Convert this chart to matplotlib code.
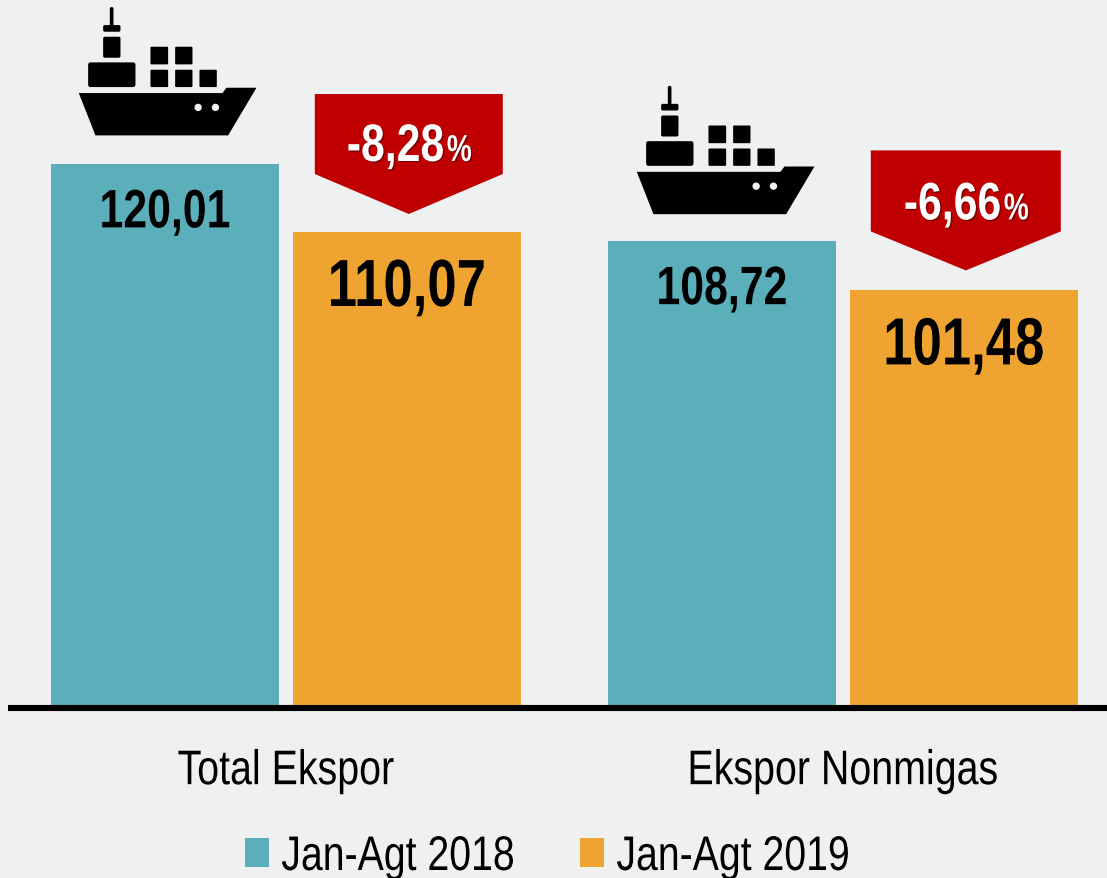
import types
import matplotlib
matplotlib.use("Agg")
import matplotlib.pyplot as plt
from matplotlib.patches import Polygon, FancyBboxPatch, Circle
from matplotlib.textpath import TextPath
from matplotlib.transforms import Affine2D, Bbox
from matplotlib.colors import to_rgba

FONT = "Liberation Sans"

categories = ["Total Ekspor", "Ekspor Nonmigas"]
series_names = ["Jan-Agt 2018", "Jan-Agt 2019"]
values_2018 = [120.01, 108.72]
values_2019 = [110.07, 101.48]
changes = ["-8,28", "-6,66"]

BG, TEAL, ORANGE, RED = "#EFF1F0", "#5BAFBB", "#EFA330", "#C00000"
W, H = 1107, 879
PX_PER_UNIT = 6.8
PX_PER_CAT = 557
BASE_PX = 708.5
OFFSET = 121 / PX_PER_CAT
BAR_W = 228 / PX_PER_CAT
ALIGN = {"left": 0.0, "center": 0.5, "right": 1.0}


class CondensedRenderer:
    """Draws the text of a Text artist narrowed horizontally (no condensed font is installed)."""
    def __init__(self, renderer, artist, fx, shadow):
        self._r, self._artist, self._fx, self._shadow = renderer, artist, fx, shadow

    def __getattr__(self, name):
        return getattr(self._r, name)

    def draw_text(self, gc, x, y, s, prop, angle, ismath=False, mtext=None):
        r = self._r
        w = r.get_text_width_height_descent(s, prop, False)[0]
        k = r.dpi / 72
        x_new = x + w * ALIGN[self._artist.get_ha()] * (1 - self._fx)
        y_up = r.height - y
        path = TextPath((0, 0), s, prop=prop)
        gc.set_linewidth(0)
        if self._shadow:
            tr = Affine2D().scale(k * self._fx, k).translate(x_new + 1.3, y_up - 1.3)
            r.draw_path(gc, path, tr, to_rgba(self._shadow))
        tr = Affine2D().scale(k * self._fx, k).translate(x_new, y_up)
        r.draw_path(gc, path, tr, gc.get_rgb())


def condense(text, fx, shadow=None):
    base_draw = type(text).draw
    base_extent = type(text).get_window_extent

    def draw(self, renderer):
        base_draw(self, CondensedRenderer(renderer, self, fx, shadow))

    def get_window_extent(self, renderer=None, dpi=None):
        bb = base_extent(self, renderer, dpi)
        x0 = bb.x0 + bb.width * ALIGN[self.get_ha()] * (1 - fx)
        return Bbox.from_extents(x0, bb.y0, x0 + bb.width * fx, bb.y1)

    text.draw = types.MethodType(draw, text)
    text.get_window_extent = types.MethodType(get_window_extent, text)
    return text


fig = plt.figure(figsize=(W / 100, H / 100), dpi=100, facecolor=BG)
ax = fig.add_axes([8 / W, (H - BASE_PX) / H, (W - 8) / W, BASE_PX / H], facecolor=BG)
ax.set_xlim((8 - 285.8) / PX_PER_CAT, (W - 285.8) / PX_PER_CAT)
y0 = 120.01 - (BASE_PX - 165.4) / PX_PER_UNIT
ax.set_ylim(y0, y0 + BASE_PX / PX_PER_UNIT)

b1 = ax.bar([i - OFFSET for i in range(2)], values_2018, BAR_W, color=TEAL, label=series_names[0], zorder=1)
b2 = ax.bar([i + OFFSET for i in range(2)], values_2019, BAR_W, color=ORANGE, label=series_names[1], zorder=1)

for s in ["top", "left", "right"]:
    ax.spines[s].set_visible(False)
ax.spines["bottom"].set_linewidth(4.4)
ax.spines["bottom"].set_color("black")
ax.spines["bottom"].set_capstyle("butt")
ax.spines["bottom"].set_zorder(5)
ax.set_yticks([])
ax.set_xticks(range(2))
ax.set_xticklabels(categories, fontfamily=FONT, fontsize=35, color="black")
ax.tick_params(axis="x", length=0, pad=30)
for lab in ax.get_xticklabels():
    condense(lab, 0.81)

leg = ax.legend(handles=[b1, b2], loc="center", bbox_to_anchor=((575.5 - 8) / (W - 8), -150 / BASE_PX), ncol=2,
                frameon=False, prop={"family": FONT, "size": 35}, handlelength=0.49, handleheight=0.535,
                handletextpad=0.25, columnspacing=0.2, borderpad=0, borderaxespad=0)
for t in leg.get_texts():
    condense(t, 0.807)


def value_label(x, v, size, dy):
    t = ax.annotate(f"{v:.2f}".replace(".", ","), (x, v), xytext=(0, -dy * 0.72), textcoords="offset points",
                    ha="center", va="baseline", fontfamily=FONT, fontweight="bold", fontsize=size,
                    color="black", zorder=4)
    condense(t, 0.79)


value_label(0 - OFFSET, values_2018[0], 39, 63)
value_label(0 + OFFSET, values_2019[0], 48, 74)
value_label(1 - OFFSET, values_2018[1], 39, 63)
value_label(1 + OFFSET, values_2019[1], 48, 74)


def px_transform(x, v):
    ox, oy = ax.transData.transform((x, v))
    return Affine2D().scale(1, -1).translate(ox, oy)


def badge(x, v, label, half, body, point, gap):
    tr = px_transform(x, v)
    top = -(gap + point + body)
    pts = [(2 - half, top), (2 + half, top), (2 + half, top + body), (2, top + body + point), (2 - half, top + body)]
    ax.add_patch(Polygon(pts, closed=True, transform=tr, facecolor=RED, edgecolor="none", zorder=3, clip_on=False))
    main = ax.annotate(label, (x, v), xytext=(-60 * 0.72, 71 * 0.72), textcoords="offset points", ha="left",
                       va="baseline", color="white", fontfamily=FONT, fontweight="bold", fontsize=38, zorder=4)
    pct = ax.annotate("%", (x, v), xytext=(40 * 0.72, 71 * 0.72), textcoords="offset points", ha="left",
                      va="baseline", color="white", fontfamily=FONT, fontweight="bold", fontsize=27, zorder=4)
    condense(main, 0.81, "#7a0000")
    condense(pct, 0.75, "#7a0000")


badge(0 + OFFSET, values_2019[0], changes[0], 94, 80, 40, 18)
badge(1 + OFFSET, values_2019[1], changes[1], 95, 81, 39, 20)


def ship(x, v, dx, dy):
    ox, oy = ax.transData.transform((x, v))
    tr = Affine2D().scale(1 / 3, -1 / 3).translate(ox + dx, oy + dy)
    kw = dict(transform=tr, facecolor="black", edgecolor="none", zorder=3, clip_on=False)
    ax.add_patch(Polygon([(57, 281), (488, 281), (500, 265), (590, 265), (505, 408), (107, 408)], closed=True, **kw))
    for x0, y0_, x1, y1, r in [(150, 23, 161, 80, 5), (130, 77, 182, 97, 5), (130, 112, 182, 175, 5),
                               (85, 189, 227, 263, 7), (272, 142, 325, 195, 3), (346, 142, 398, 195, 3),
                               (272, 211, 325, 263, 3), (346, 211, 398, 263, 3), (419, 211, 471, 263, 3)]:
        ax.add_patch(FancyBboxPatch((x0 + r, y0_ + r), x1 - x0 - 2 * r, y1 - y0_ - 2 * r,
                                    boxstyle=f"round,pad={r},rounding_size={r}", **kw))
    for cx in (415, 467):
        ax.add_patch(Circle((cx, 324), 11, transform=tr, facecolor=BG, edgecolor="none", zorder=3.5, clip_on=False))


ship(0 - OFFSET, values_2018[0], -105, 165)
ship(1 - OFFSET, values_2018[1], -104, 163)

fig.savefig("out.png", dpi=100, facecolor=BG)
